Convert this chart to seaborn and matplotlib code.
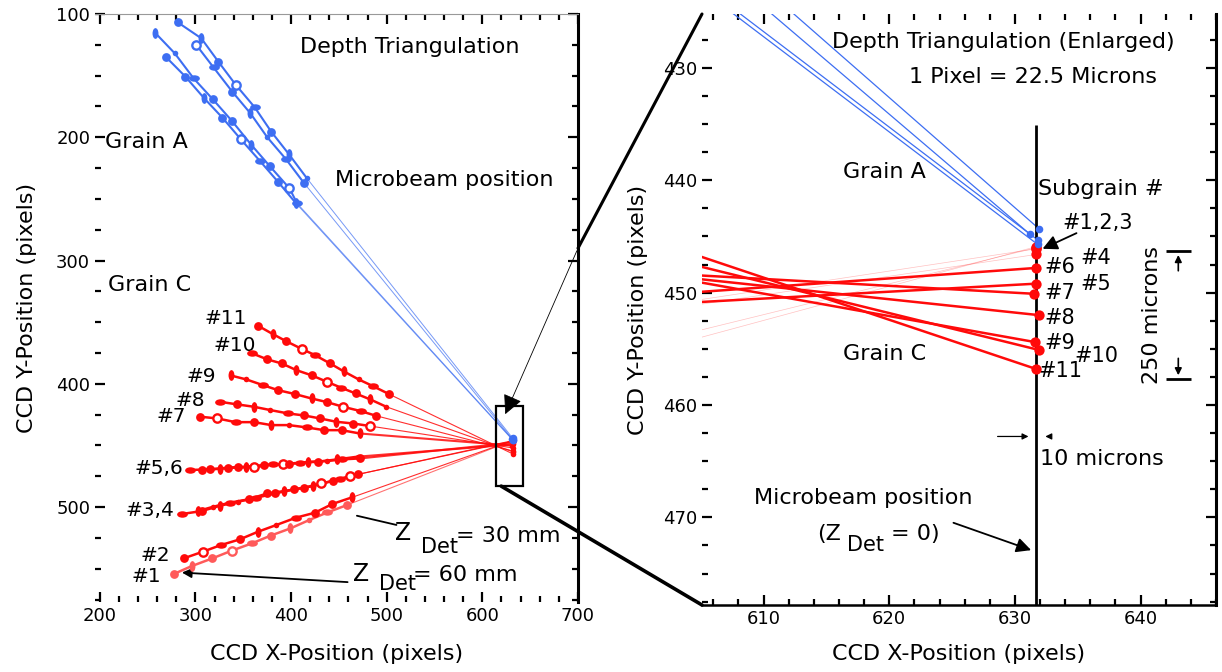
import pandas as pd
import seaborn as sns
import matplotlib.pyplot as plt
from matplotlib.markers import MarkerStyle
from matplotlib.transforms import Affine2D
from matplotlib.patches import Rectangle, ConnectionPatch
from matplotlib.ticker import MultipleLocator

sns.set_style("white")
plt.rcParams['font.family'] = ['DejaVu Sans']
plt.rcParams['mathtext.fontset'] = 'dejavusans'
plt.rcParams['text.color'] = 'black'
plt.rcParams['axes.labelcolor'] = 'black'
plt.rcParams['xtick.color'] = 'black'
plt.rcParams['ytick.color'] = 'black'

# --- Data (CCD pixel coordinates) ---
# Grain C subgrains: spot positions at successive detector distances
red_x = {
    '1': [277.3, 296.3, 317.7, 337.8, 359.2, 378.5, 399.3, 419.0, 438.0, 458.7],
    '2': [287.7, 307.7, 326.7, 346.4, 365.4, 384.4, 405.1, 424.8, 443.1, 463.8],
    '3': [286.0, 306.7, 325.7, 344.7, 363.7, 383.4, 403.4, 423.4, 443.8, 462.1],
    '4': [302.6, 318.8, 336.1, 355.7, 375.1, 393.0, 413.8, 431.7, 451.1, 469.7],
    '5': [294.6, 315.3, 334.3, 353.3, 371.6, 391.3, 409.6, 428.3, 448.3, 469.7],
    '6': [306.7, 325.7, 344.0, 361.3, 381.0, 398.2, 417.2, 437.9, 453.5, 472.5],
    '7': [305.0, 323.0, 342.0, 361.3, 379.3, 397.6, 416.6, 434.6, 452.9, 471.9],
    '8': [325.8, 343.7, 361.0, 378.3, 396.6, 413.8, 430.4, 447.3, 465.0, 482.9],
    '9': [336.8, 353.4, 370.7, 386.2, 404.5, 421.4, 437.3, 454.2, 472.6, 488.8],
    '10': [359.6, 375.2, 390.3, 405.5, 421.8, 437.3, 452.5, 467.4, 482.9, 499.5],
    '11': [365.5, 381.0, 394.8, 411.4, 424.9, 440.8, 455.3, 470.8, 485.7, 502.6],
}
red_y = {
    '1': [554.3, 547.8, 541.6, 535.4, 529.4, 523.2, 517.3, 510.5, 504.3, 498.3],
    '2': [541.6, 536.2, 530.8, 526.2, 520.0, 514.6, 508.6, 504.6, 497.5, 492.1],
    '3': [505.6, 503.2, 498.9, 495.6, 492.4, 488.9, 485.6, 482.9, 478.6, 474.8],
    '4': [503.2, 499.7, 496.4, 493.7, 488.9, 487.0, 484.3, 480.8, 477.5, 473.5],
    '5': [469.9, 469.4, 468.0, 467.2, 465.9, 465.1, 464.0, 463.2, 461.3, 459.1],
    '6': [469.9, 468.9, 467.8, 467.8, 465.3, 465.1, 463.4, 462.6, 461.3, 460.5],
    '7': [426.7, 428.1, 431.1, 431.1, 433.5, 433.5, 435.4, 437.6, 437.6, 440.3],
    '8': [414.6, 416.7, 418.6, 421.3, 424.0, 425.7, 428.1, 430.8, 432.2, 434.3],
    '9': [393.2, 396.5, 401.1, 405.1, 408.4, 411.9, 414.8, 418.6, 422.1, 425.9],
    '10': [375.4, 380.2, 383.5, 388.9, 393.2, 398.3, 403.2, 407.8, 412.7, 418.6],
    '11': [352.9, 359.7, 365.4, 371.8, 376.7, 383.5, 390.0, 396.5, 401.9, 408.4],
}
# triangulated source points on the microbeam (Z_Det = 0)
red_end_x = {'1': 631.7, '2': 631.7, '3': 631.7, '4': 631.7, '5': 631.7, '6': 631.7,
             '7': 631.5, '8': 631.9, '9': 631.6, '10': 631.9, '11': 631.7}
red_end_y = {'1': 445.9, '2': 446.0, '3': 446.1, '4': 446.6, '5': 449.2, '6': 447.8,
             '7': 450.1, '8': 452.0, '9': 454.4, '10': 455.1, '11': 456.8}

# Grain A
blue_x = {
    'A1': [281.6, 306.1, 324.0, 342.3, 362.0, 379.3, 397.6, 416.6],
    'A2': [300.9, 318.9, 338.5, 357.5, 375.2, 394.8, 413.2],
    'A3': [257.7, 278.4, 298.1, 318.2, 337.9, 358.6, 377.6, 398.3, 406.3],
    'A4': [268.8, 289.5, 309.2, 328.2, 347.5, 367.2, 386.2, 405.2],
}
blue_y = {
    'A1': [106.8, 119.7, 138.7, 157.6, 175.7, 195.5, 213.6, 233.3],
    'A2': [125.1, 143.3, 163.0, 180.6, 200.1, 217.9, 236.8],
    'A3': [115.1, 131.9, 152.2, 169.2, 186.5, 206.3, 223.3, 241.4, 253.6],
    'A4': [134.6, 150.8, 168.4, 184.1, 201.7, 219.0, 236.0, 253.6],
}
blue_end_x = {'A1': 631.9, 'A2': 631.2, 'A3': 631.8, 'A4': 631.8}
blue_end_y = {'A1': 444.3, 'A2': 444.8, 'A3': 445.3, 'A4': 445.7}

# subgrain labels (left panel) and their positions
left_labels = ['#11', '#10', '#9', '#8', '#7', '#5,6', '#3,4', '#2', '#1']
left_label_x = [331.3, 340.9, 305.9, 294.4, 274.8, 261.5, 252.5, 258.0, 248.4]
left_label_y = [346.9, 368.6, 394.3, 413.7, 426.7, 468.6, 502.4, 539.0, 556.0]

# subgrain labels (right panel)
right_labels = ['#1,2,3', '#4', '#6', '#5', '#7', '#8', '#9', '#10', '#11']
right_label_x = [636.6, 636.4, 633.6, 636.4, 633.6, 633.6, 633.6, 636.5, 633.6]
right_label_y = [443.8, 446.9, 447.7, 449.2, 450.0, 452.3, 454.5, 455.6, 457.0]

beam_x = 631.7
beam_top = 435.1
zoom_box = (614.5, 418.0, 28.0, 65.0)

RED = '#ff0a0a'
RED_LIGHT = '#ff5a5a'
BLUE = '#3d6ef2'

# marker shapes used for the measured spots
MK = {
    'dot': dict(marker='o', s=40),
    'small': dict(marker='o', s=16),
    'vell': dict(marker=MarkerStyle('o', transform=Affine2D().scale(0.55, 1.0)), s=60),
    'hell': dict(marker=MarkerStyle('o', transform=Affine2D().scale(1.0, 0.6)), s=60),
}
kind_cycle = ['dot', 'vell', 'dot', 'ring', 'hell', 'dot', 'vell', 'small', 'hell', 'dot']


def draw_spots(ax, xs, ys, color, offset):
    for i, (x, y) in enumerate(zip(xs, ys)):
        kind = kind_cycle[(i + offset) % len(kind_cycle)]
        if kind == 'ring':
            sns.scatterplot(x=[x], y=[y], ax=ax, marker='o', s=36, color='white',
                            edgecolor=color, linewidth=1.7, zorder=4)
        else:
            sns.scatterplot(x=[x], y=[y], ax=ax, color=color, linewidth=0,
                            zorder=4, **MK[kind])


fig = plt.figure(figsize=(12.22, 6.72), dpi=100)
axL = fig.add_axes([95 / 1222, 70 / 672, 483 / 1222, 588 / 672])
axR = fig.add_axes([702 / 1222, 67 / 672, 514 / 1222, 591 / 672])

fs = 16
fs_lab = 15

# --- Left panel: full view ---
for k, key in enumerate(blue_x):
    xs, ys = blue_x[key], blue_y[key]
    sns.lineplot(x=xs, y=ys, ax=axL, sort=False, estimator=None, color=BLUE, lw=1.5)
    sns.lineplot(x=[xs[-1], blue_end_x[key]], y=[ys[-1], blue_end_y[key]], ax=axL,
                 sort=False, estimator=None, color=BLUE, lw=0.7, alpha=0.7)
    draw_spots(axL, xs, ys, BLUE, k * 3)

for k, key in enumerate(red_x):
    xs, ys = red_x[key], red_y[key]
    col = RED_LIGHT if key == '1' else RED
    sns.lineplot(x=xs, y=ys, ax=axL, sort=False, estimator=None, color=col, lw=1.8)
    ext_lw = 1.5 if key in ('5', '6', '7') else 0.8
    sns.lineplot(x=[xs[-1], red_end_x[key]], y=[ys[-1], red_end_y[key]], ax=axL,
                 sort=False, estimator=None, color=col, lw=ext_lw, alpha=0.85)
    draw_spots(axL, xs, ys, col, k * 2)

sns.scatterplot(x=list(red_end_x.values()), y=list(red_end_y.values()), ax=axL,
                color=RED, s=16, linewidth=0, zorder=5)
sns.scatterplot(x=list(blue_end_x.values()), y=list(blue_end_y.values()), ax=axL,
                color=BLUE, s=30, linewidth=0, zorder=6)

axL.add_patch(Rectangle(zoom_box[:2], zoom_box[2], zoom_box[3], fill=False,
                        lw=1.6, ec='black', zorder=7))

axL.set_xlim(195, 700)
axL.set_ylim(577, 100)
axL.xaxis.set_major_locator(MultipleLocator(100))
axL.xaxis.set_minor_locator(MultipleLocator(20))
axL.yaxis.set_major_locator(MultipleLocator(100))
axL.yaxis.set_minor_locator(MultipleLocator(25))

axL.text(524, 127, 'Depth Triangulation', fontsize=fs, ha='center', va='center')
axL.text(205, 204, 'Grain A', fontsize=fs, ha='left', va='center')
axL.text(560, 235, 'Microbeam position', fontsize=fs, ha='center', va='center')
axL.text(209, 320, 'Grain C', fontsize=fs, ha='left', va='center')
for lab, lx, ly in zip(left_labels, left_label_x, left_label_y):
    axL.text(lx, ly, lab, fontsize=fs_lab - 0.5, ha='center', va='center')

# Z_Det annotations (Z, lowered "Det", then value)
axL.text(517, 521, 'Z', fontsize=fs + 1, ha='center', va='center')
axL.text(555, 532, 'Det', fontsize=fs - 1, ha='center', va='center')
axL.text(572, 523.5, '= 30 mm', fontsize=fs, ha='left', va='center')
axL.text(473, 554, 'Z', fontsize=fs + 1, ha='center', va='center')
axL.text(511, 562, 'Det', fontsize=fs - 1, ha='center', va='center')
axL.text(528, 555, '= 60 mm', fontsize=fs, ha='left', va='center')
axL.annotate('', xy=(466, 506.5), xytext=(513, 515),
             arrowprops=dict(arrowstyle='-', color='black', lw=1.3))
axL.annotate('', xy=(283, 553), xytext=(462, 561),
             arrowprops=dict(arrowstyle='-|>', color='black', lw=1.3, mutation_scale=14))

axL.set_xlabel('CCD X-Position (pixels)', fontsize=fs)
axL.set_ylabel('CCD Y-Position (pixels)', fontsize=fs)
axL.xaxis.set_label_coords(0.5, -0.072)
axL.yaxis.set_label_coords(-0.12, 0.5)

# --- Right panel: enlarged view around the microbeam ---
for key in blue_x:
    xs, ys = blue_x[key], blue_y[key]
    sns.lineplot(x=[xs[-1], blue_end_x[key]], y=[ys[-1], blue_end_y[key]], ax=axR,
                 sort=False, estimator=None, color=BLUE, lw=0.9)
for key in red_x:
    xs, ys = red_x[key], red_y[key]
    faint = key in ('1', '2', '3', '4')
    sns.lineplot(x=[xs[-1], red_end_x[key]], y=[ys[-1], red_end_y[key]], ax=axR,
                 sort=False, estimator=None, color=RED,
                 lw=0.5 if faint else 1.8, alpha=0.25 if faint else 1.0)

axR.vlines(beam_x, beam_top, 478, color='black', lw=2, zorder=3)
sns.scatterplot(x=list(red_end_x.values()), y=list(red_end_y.values()), ax=axR,
                color=RED, s=55, linewidth=0, zorder=5)
sns.scatterplot(x=list(blue_end_x.values()), y=list(blue_end_y.values()), ax=axR,
                color=BLUE, s=30, linewidth=0, zorder=6)

axR.set_xlim(605.1, 646.0)
axR.set_ylim(477.8, 425.2)
axR.xaxis.set_major_locator(MultipleLocator(10))
axR.xaxis.set_minor_locator(MultipleLocator(2))
axR.yaxis.set_major_locator(MultipleLocator(10))
axR.yaxis.set_minor_locator(MultipleLocator(2.5))

axR.text(629.1, 427.7, 'Depth Triangulation (Enlarged)', fontsize=fs, ha='center', va='center')
axR.text(631.4, 430.8, '1 Pixel = 22.5 Microns', fontsize=fs, ha='center', va='center')
axR.text(619.6, 439.3, 'Grain A', fontsize=fs, ha='center', va='center')
axR.text(619.6, 455.5, 'Grain C', fontsize=fs, ha='center', va='center')
axR.text(631.8, 440.8, 'Subgrain #', fontsize=fs, ha='left', va='center')
for lab, lx, ly in zip(right_labels, right_label_x, right_label_y):
    axR.text(lx, ly, lab, fontsize=fs_lab, ha='center', va='center')
axR.annotate('', xy=(632.0, 446.2), xytext=(635.1, 444.6),
             arrowprops=dict(arrowstyle='-|>', color='black', lw=1.3, mutation_scale=22))

# 250 micron bracket
axR.text(640.9, 452.0, '250 microns', fontsize=fs, rotation=90, ha='center', va='center')
axR.hlines([446.3, 457.7], 642.0, 644.0, color='black', lw=2)
axR.annotate('', xy=(643.0, 446.4), xytext=(643.0, 448.3),
             arrowprops=dict(arrowstyle='-|>', color='black', lw=1.2, mutation_scale=10))
axR.annotate('', xy=(643.0, 457.6), xytext=(643.0, 455.6),
             arrowprops=dict(arrowstyle='-|>', color='black', lw=1.2, mutation_scale=10))

# 10 micron beam width
axR.annotate('', xy=(631.3, 462.8), xytext=(628.4, 462.8),
             arrowprops=dict(arrowstyle='-|>', color='black', lw=0.9, mutation_scale=9))
axR.annotate('', xy=(632.2, 462.8), xytext=(633.0, 462.8),
             arrowprops=dict(arrowstyle='-|>', color='black', lw=0.9, mutation_scale=9))
axR.text(632.0, 464.8, '10 microns', fontsize=fs, ha='left', va='center')

axR.text(617.9, 468.3, 'Microbeam position', fontsize=fs, ha='center', va='center')
axR.text(615.2, 471.5, '(Z', fontsize=fs, ha='center', va='center')
axR.text(618.1, 472.5, 'Det', fontsize=fs - 1, ha='center', va='center')
axR.text(622.1, 471.5, '= 0)', fontsize=fs, ha='center', va='center')
axR.annotate('', xy=(631.5, 473.0), xytext=(624.9, 470.4),
             arrowprops=dict(arrowstyle='-|>', color='black', lw=1.3, mutation_scale=22))

axR.set_xlabel('CCD X-Position (pixels)', fontsize=fs)
axR.set_ylabel('CCD Y-Position (pixels)', fontsize=fs)
axR.xaxis.set_label_coords(0.5, -0.066)
axR.yaxis.set_label_coords(-0.105, 0.5)

# --- Axis styling ---
for ax in (axL, axR):
    ax.tick_params(which='both', direction='in', top=True, right=True, left=True,
                   bottom=True, labelsize=13, width=1.6, color='black')
    ax.tick_params(which='major', length=7)
    ax.tick_params(which='minor', length=4)
    ax.spines['left'].set_visible(False)
    ax.spines['right'].set_linewidth(2.2)
    ax.spines['right'].set_color('black')

axL.spines['bottom'].set_visible(False)
axL.spines['top'].set_color('#999999')
axL.spines['top'].set_linewidth(0.8)
axR.spines['top'].set_visible(False)
axR.spines['bottom'].set_color('black')
axR.spines['bottom'].set_linewidth(1.8)

# --- Zoom connectors between panels ---
fig.add_artist(ConnectionPatch(xyA=(700, 290), coordsA=axL.transData,
                               xyB=(0, 1), coordsB=axR.transAxes, color='black', lw=2.2))
fig.add_artist(ConnectionPatch(xyA=(619.7, 483), coordsA=axL.transData,
                               xyB=(0, 0), coordsB=axR.transAxes, color='black', lw=2.6))
axL.annotate('', xy=(622.8, 426.7), xytext=(700, 290), annotation_clip=False,
             arrowprops=dict(arrowstyle='-|>', color='black', lw=0.6, mutation_scale=30))

fig.savefig('out.png', dpi=100)
